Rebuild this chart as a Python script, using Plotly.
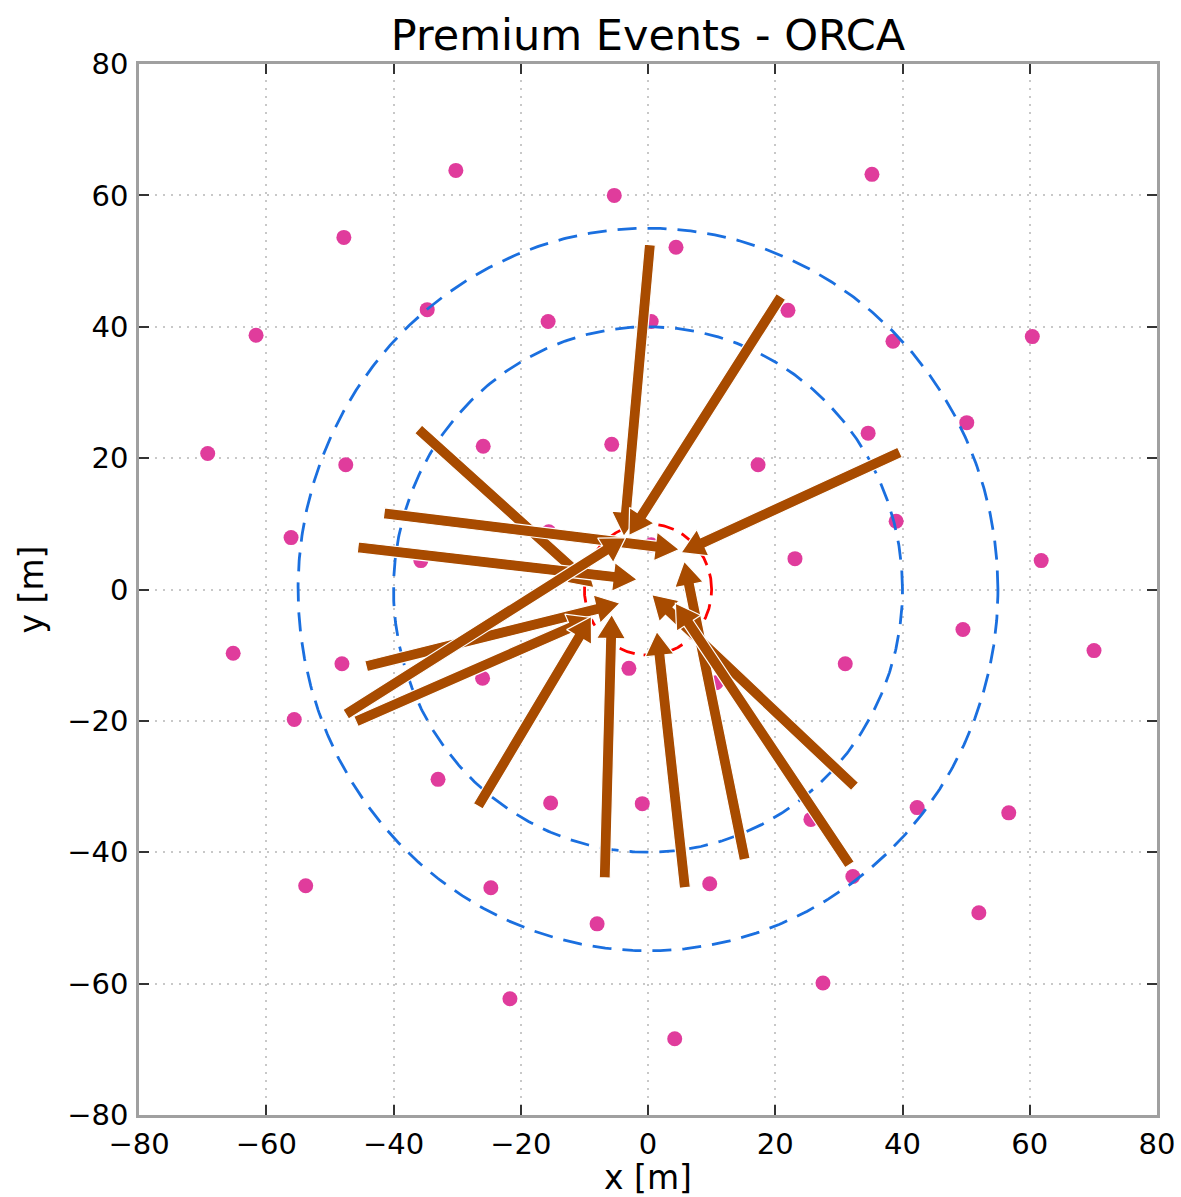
import numpy as np
import plotly.graph_objects as go

# ---- data ----
sensor_x = [-30.2, -5.3, 35.2, -47.8, 4.4, -34.7, -15.7, 0.5, 22.0, -61.6, 38.5, 60.4,
            -69.2, -25.9, -5.7, -47.5, 17.3, 34.6, 50.1, 39.0, -56.1, -15.6, -35.7, 23.1,
            61.8, -65.2, -48.1, -3.0, 31.0, 49.5, 70.1, -26.0, -55.6, -33.0, -15.3, -0.9,
            42.3, 56.7, 10.7, 25.6, -53.8, -24.7, 9.7, 32.2, 52.0, -8.0, 27.5, -21.7, 4.2, 0.5]
sensor_y = [63.8, 60.0, 63.2, 53.6, 52.1, 42.6, 40.8, 40.8, 42.5, 38.7, 37.8, 38.5,
            20.7, 21.8, 22.1, 19.0, 19.0, 23.8, 25.4, 10.4, 7.9, 8.8, 4.4, 4.7,
            4.4, -9.7, -11.3, -12.0, -11.3, -6.1, -9.3, -13.5, -19.8, -28.9, -32.5, -32.6,
            -33.2, -34.0, -14.2, -35.0, -45.1, -45.4, -44.8, -43.7, -49.2, -50.9, -59.9, -62.3, -68.4, 6.8]

tail_x = [0.3, 20.9, 39.6, -36.1, -41.5, -45.6, -44.3, -47.5, -45.9, -26.7, -6.8, 5.8, 15.2, 32.5, 31.7]
tail_y = [52.5, 44.6, 20.9, 24.4, 11.6, 6.4, -11.7, -19.0, -20.1, -33.0, -43.9, -45.4, -41.1, -30.0, -41.9]
tip_x = [-3.8, -3.0, 5.2, -8.5, 4.9, -1.7, -4.4, -3.5, -8.7, -8.9, -5.7, 1.4, 5.7, 0.6, 4.3]
tip_y = [8.1, 8.2, 5.6, 0.3, 6.1, 1.5, -2.1, 7.9, -4.3, -4.1, -3.8, -6.4, 4.3, -0.8, -2.1]

ring_radii = [40, 55]
inner_radius = 10

title_text = "Premium Events - ORCA"
tick_vals = [-80, -60, -40, -20, 0, 20, 40, 60, 80]

# ---- layout geometry ----
W, H = 1181, 1197
ML, MR, MT, MB = 139, 24, 64, 82
pw, ph = W - ML - MR, H - MT - MB
sx, sy = pw / 160.0, ph / 160.0

FONT = "DejaVu Sans"
PINK = "#e03c9c"
BROWN = "#a84b00"
BLUE = "#1a6fdf"

fig = go.Figure()

fig.add_trace(go.Scatter(x=sensor_x, y=sensor_y, mode="markers",
                         marker=dict(color=PINK, size=15, line=dict(width=0)),
                         hoverinfo="skip", showlegend=False))

theta = np.linspace(0, 2 * np.pi, 721)
for r in ring_radii:
    fig.add_trace(go.Scatter(x=r * np.cos(theta), y=r * np.sin(theta), mode="lines",
                             line=dict(color=BLUE, width=2.8, dash="19px,11px"),
                             hoverinfo="skip", showlegend=False))
fig.add_trace(go.Scatter(x=inner_radius * np.cos(theta), y=inner_radius * np.sin(theta),
                         mode="lines", line=dict(color="red", width=2.8, dash="16px,9px"),
                         hoverinfo="skip", showlegend=False))


def arrow_poly(x0, y0, x1, y1, w=11.0, hw=29.0, hl=24.0):
    # work in pixel space
    X0, Y0, X1, Y1 = x0 * sx, y0 * sy, x1 * sx, y1 * sy
    d = np.array([X1 - X0, Y1 - Y0])
    L = np.hypot(*d)
    u = d / L
    n = np.array([-u[1], u[0]])
    tail = np.array([X0, Y0])
    tip = np.array([X1, Y1])
    base = tip - u * hl
    pts = [tail + n * w / 2, base + n * w / 2, base + n * hw / 2, tip,
           base - n * hw / 2, base - n * w / 2, tail - n * w / 2, tail + n * w / 2]
    xs = [p[0] / sx for p in pts]
    ys = [p[1] / sy for p in pts]
    return xs, ys


for a, b, c, d in zip(tail_x, tail_y, tip_x, tip_y):
    xs, ys = arrow_poly(a, b, c, d)
    fig.add_trace(go.Scatter(x=xs, y=ys, mode="lines", fill="toself",
                             fillcolor=BROWN, line=dict(color="white", width=1.2),
                             hoverinfo="skip", showlegend=False))

axis_common = dict(range=[-80, 80], tickvals=tick_vals, ticks="inside", ticklen=10,
                   tickwidth=1.5, tickcolor="#333333", showline=True, linecolor="#a0a0a0",
                   linewidth=2.5, mirror="ticks", showgrid=True, gridcolor="#c8c8c8",
                   griddash="2px,6px", gridwidth=1.5, zeroline=False,
                   tickfont=dict(family=FONT, size=29, color="black"))

fig.update_xaxes(**axis_common, title=dict(text="x [m]", font=dict(family=FONT, size=33, color="black"),
                                          standoff=2), ticklabelstandoff=1)
fig.update_yaxes(**axis_common, title=dict(text="y [m]", font=dict(family=FONT, size=33, color="black"),
                                          standoff=14), ticklabelstandoff=2)

fig.update_layout(
    width=W, height=H,
    margin=dict(l=ML, r=MR, t=MT, b=MB, autoexpand=False),
    paper_bgcolor="white", plot_bgcolor="white",
    title=dict(text=title_text, x=(ML + pw / 2) / W, xanchor="center",
               y=1 - 35 / H, yanchor="middle", yref="container",
               font=dict(family=FONT, size=43, color="black")),
)

fig.write_html("out.html")
